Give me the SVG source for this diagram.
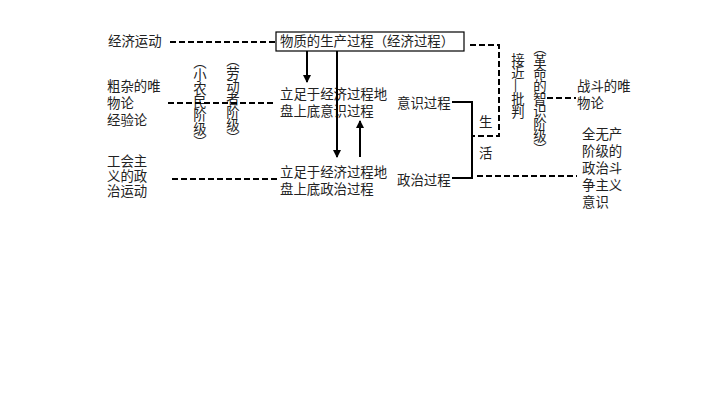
<svg xmlns="http://www.w3.org/2000/svg" width="720" height="405" viewBox="0 0 720 405">
<defs>
<style>
text{font-family:"Liberation Sans","Noto Sans CJK SC",sans-serif;font-size:13.4px;fill:#222}
.v{writing-mode:vertical-rl}
.d{fill:none;stroke:#000;stroke-width:2;stroke-dasharray:6,3}
.s{fill:none;stroke:#000;stroke-width:2}
</style>
<marker id="ah" markerWidth="8" markerHeight="8" refX="7" refY="4" orient="auto" markerUnits="userSpaceOnUse">
<path d="M0,0 L8,4 L0,8 Z" fill="#000"/>
</marker>
</defs>
<rect width="720" height="405" fill="#fff"/>
<g id="econ-move"><text x="108" y="46">经济运动</text></g>
<g id="material"><rect x="276" y="32" width="188" height="19" fill="#fff" stroke="#000" stroke-width="1.2"/><text x="280" y="46">物质的生产过程（经济过程）</text></g>
<g id="crude"><text x="107" y="91">粗杂的唯<tspan x="107" y="108">物论</tspan><tspan x="107" y="125">经验论</tspan></text></g>
<g id="peasant"><text class="v" x="198.5" y="55">︵小农民阶级︶</text></g>
<g id="worker"><text class="v" x="231.5" y="53" letter-spacing="-0.3">︵劳动者阶级︶</text></g>
<g id="con-consc"><text x="280" y="99">立足于经济过程地<tspan x="280" y="116">盘上底意识过程</tspan></text></g>
<g id="consc"><text x="397" y="108">意识过程</text></g>
<g id="life"><text x="479" y="127">生<tspan x="479" y="158">活</tspan></text></g>
<g id="union"><text x="107" y="166">工会主<tspan x="107" y="181">义的政</tspan><tspan x="107" y="196">治运动</tspan></text></g>
<g id="con-pol"><text x="280" y="177">立足于经济过程地<tspan x="280" y="194">盘上底政治过程</tspan></text></g>
<g id="pol"><text x="397" y="185">政治过程</text></g>
<g id="critique"><text class="v" x="516.5" y="53" letter-spacing="-0.4">接近—批判</text></g>
<g id="intel"><text class="v" x="538.5" y="41.5" letter-spacing="-0.8">︵革命的智识阶级︶</text></g>
<g id="militant"><text x="577" y="91">战斗的唯<tspan x="577" y="108">物论</tspan></text></g>
<g id="proletariat"><text x="582" y="139">全无产<tspan x="582" y="156">阶级的</tspan><tspan x="582" y="173">政治斗</tspan><tspan x="582" y="190">争主义</tspan><tspan x="582" y="207">意识</tspan></text></g>
<g id="connectors">
<path class="d" d="M170,42 H275"/>
<path class="d" d="M168,103 H275"/>
<path class="d" d="M172,179 H277"/>
<path class="d" d="M470,45 H499 V136 H472"/>
<path class="d" d="M547,98 H576"/>
<path class="d" d="M477,176 H577"/>
<path class="s" d="M452,102 H472 V178 H452"/>
<path class="s" d="M307,51 V82" marker-end="url(#ah)"/>
<path class="s" d="M337,51 V157" marker-end="url(#ah)"/>
<path class="s" d="M360,157 V121" marker-end="url(#ah)"/>
</g>
</svg>
